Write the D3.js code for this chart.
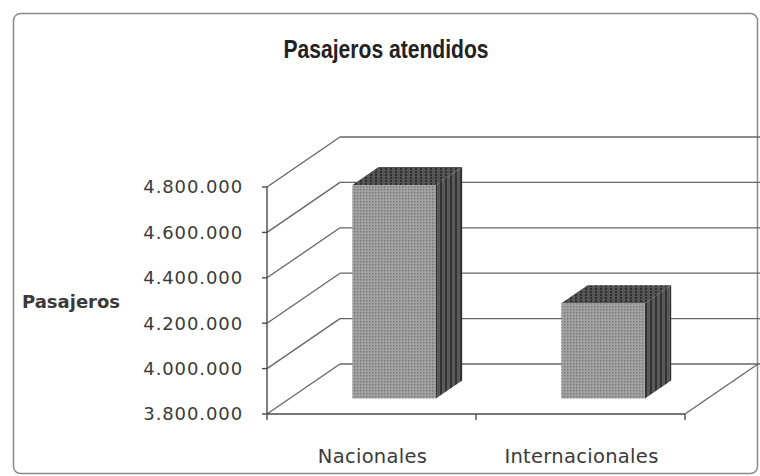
<!DOCTYPE html>
<html>
<head>
<meta charset="utf-8">
<script src="https://cdn.jsdelivr.net/npm/d3@7"></script>
<style>
  body { margin: 0; background: #fff; }
  svg text { fill: #3a3a3a; }
</style>
</head>
<body>
<div id="chart"></div>
<script>
// data
var categories = ["Nacionales", "Internacionales"];
var pasajeros = [4740000, 4220000];
var yTicks = [3800000, 4000000, 4200000, 4400000, 4600000, 4800000];
var title = "Pasajeros atendidos";
var yTitle = "Pasajeros";

var width = 760, height = 476;
var depthX = 73, depthY = -50;     // wall depth
var barFront = 0.31, barBack = 0.67; // bar position inside the depth

var svg = d3.select("#chart").append("svg")
  .attr("width", width)
  .attr("height", height);

// halftone look of the scan
var defs = svg.append("defs");
var pf = defs.append("pattern").attr("id", "front").attr("width", 3).attr("height", 3)
  .attr("patternUnits", "userSpaceOnUse");
pf.append("rect").attr("width", 3).attr("height", 3).attr("fill", "#a2a2a2");
pf.append("rect").attr("width", 1.4).attr("height", 1.4).attr("fill", "#767676");
var ps = defs.append("pattern").attr("id", "side").attr("width", 5).attr("height", 3)
  .attr("patternUnits", "userSpaceOnUse");
ps.append("rect").attr("width", 5).attr("height", 3).attr("fill", "#5a5a5a");
ps.append("rect").attr("width", 2).attr("height", 3).attr("fill", "#333");
var pt = defs.append("pattern").attr("id", "top").attr("width", 5).attr("height", 3)
  .attr("patternUnits", "userSpaceOnUse");
pt.append("rect").attr("width", 5).attr("height", 3).attr("fill", "#555");
pt.append("rect").attr("width", 2).attr("height", 2).attr("fill", "#2e2e2e");

// outer frame
svg.append("rect")
  .attr("x", 13.5).attr("y", 13.5)
  .attr("width", 744).attr("height", 460)
  .attr("rx", 7)
  .attr("fill", "none")
  .attr("stroke", "#8a8a8a")
  .attr("stroke-width", 1.5);

var x = d3.scaleBand().domain(categories).range([267, 685]);
var y = d3.scaleLinear().domain([3800000, 4800000]).range([414, 187]);

var loc = d3.formatLocale({decimal: ",", thousands: ".", grouping: [3], currency: ["", ""]});
var fmt = loc.format(",.0f");

var grid = svg.append("g").attr("stroke", "#666").attr("stroke-width", 1.3).attr("fill", "none");

// back wall gridlines and left wall diagonals
yTicks.forEach(function(t) {
  var y0 = y(t);
  grid.append("line")
    .attr("x1", x.range()[0] + depthX).attr("y1", y0 + depthY)
    .attr("x2", x.range()[1] + depthX + 2).attr("y2", y0 + depthY);
  grid.append("line")
    .attr("x1", x.range()[0]).attr("y1", y0)
    .attr("x2", x.range()[0] + depthX).attr("y2", y0 + depthY);
});
// floor right edge
grid.append("line")
  .attr("x1", x.range()[1]).attr("y1", y(3800000))
  .attr("x2", x.range()[1] + depthX).attr("y2", y(3800000) + depthY);

// bars
var bw = x.bandwidth() * 0.4;
var bars = svg.append("g").selectAll("g")
  .data(pasajeros)
  .enter().append("g");

bars.each(function(v, i) {
  var g = d3.select(this);
  var ox = barFront * depthX, oy = barFront * depthY;
  var dx = (barBack - barFront) * depthX, dy = (barBack - barFront) * depthY;
  var x0 = x(categories[i]) + (x.bandwidth() - bw) / 2 + ox;
  var x1 = x0 + bw;
  var yb = y(3800000) + oy, yt = y(v) + oy;
  g.append("path")
    .attr("d", "M" + x1 + "," + yb + "L" + (x1 + dx) + "," + (yb + dy) +
      "L" + (x1 + dx) + "," + (yt + dy) + "L" + x1 + "," + yt + "Z")
    .attr("fill", "url(#side)");
  g.append("path")
    .attr("d", "M" + x0 + "," + yt + "L" + (x0 + dx) + "," + (yt + dy) +
      "L" + (x1 + dx) + "," + (yt + dy) + "L" + x1 + "," + yt + "Z")
    .attr("fill", "url(#top)");
  g.append("rect")
    .attr("x", x0).attr("y", yt)
    .attr("width", bw).attr("height", yb - yt)
    .attr("fill", "url(#front)");
});

// front axes
var axisG = svg.append("g").attr("stroke", "#4a4a4a").attr("stroke-width", 1.4);
axisG.append("line")
  .attr("x1", 267).attr("y1", y(4800000))
  .attr("x2", 267).attr("y2", y(3800000));
axisG.append("line")
  .attr("x1", x.range()[0]).attr("y1", y(3800000))
  .attr("x2", x.range()[1]).attr("y2", y(3800000));
yTicks.forEach(function(t) {
  axisG.append("line")
    .attr("x1", 262).attr("y1", y(t)).attr("x2", 267).attr("y2", y(t));
});
[x.range()[0], x.range()[0] + x.bandwidth(), x.range()[1]].forEach(function(p) {
  axisG.append("line")
    .attr("x1", p).attr("y1", y(3800000)).attr("x2", p).attr("y2", y(3800000) + 6);
});

// tick labels
svg.append("g").selectAll("text")
  .data(yTicks)
  .enter().append("text")
  .attr("x", 243)
  .attr("y", function(d) { return y(d); })
  .attr("dy", "0.36em")
  .attr("text-anchor", "end")
  .style("font-family", "'DejaVu Sans', sans-serif")
  .style("font-size", "18px")
  .style("letter-spacing", "0.9px")
  .text(function(d) { return fmt(d); });

svg.append("g").selectAll("text")
  .data(categories)
  .enter().append("text")
  .attr("x", function(d) { return x(d) + x.bandwidth() / 2 + 1; })
  .attr("y", 463)
  .attr("text-anchor", "middle")
  .style("font-family", "'DejaVu Sans', sans-serif")
  .style("font-size", "19.5px")
  .style("letter-spacing", "0.3px")
  .text(function(d) { return d; });

svg.append("text")
  .attr("x", 22).attr("y", 308)
  .style("font-family", "'DejaVu Sans', sans-serif")
  .style("font-size", "18px")
  .style("font-weight", "bold")
  .text(yTitle);

svg.append("text")
  .attr("x", 386).attr("y", 58)
  .attr("text-anchor", "middle")
  .attr("textLength", 205)
  .attr("lengthAdjust", "spacingAndGlyphs")
  .style("font-family", "'Liberation Sans Narrow', 'Arial Narrow', 'Liberation Sans', sans-serif")
  .style("font-size", "25px")
  .style("font-weight", "bold")
  .style("fill", "#222")
  .text(title);
</script>
</body>
</html>
